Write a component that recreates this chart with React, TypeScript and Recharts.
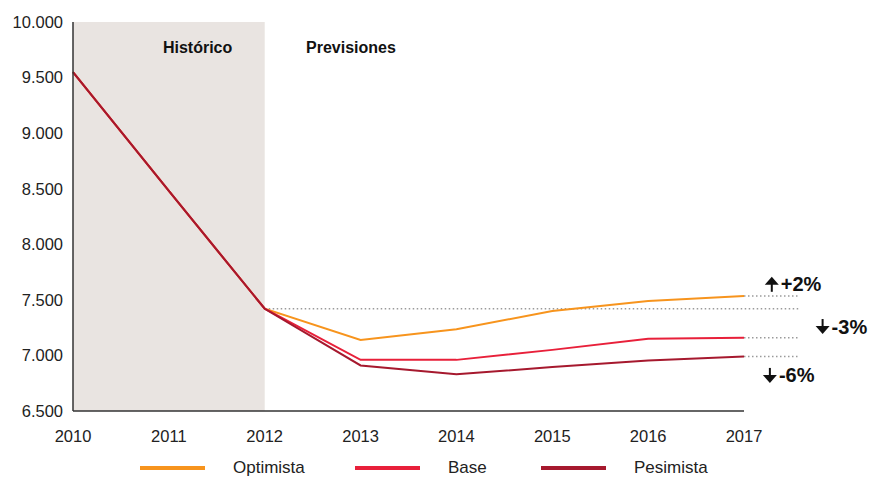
import React from "react";
import {
  LineChart,
  Line,
  XAxis,
  YAxis,
  ReferenceArea,
  ReferenceLine,
  ReferenceDot,
  Legend,
} from "recharts";

const years = [2010, 2011, 2012, 2013, 2014, 2015, 2016, 2017];
const optimista = [9550, 8480, 7420, 7140, 7235, 7400, 7490, 7535];
const base = [9550, 8480, 7420, 6960, 6960, 7050, 7150, 7160];
const pesimista = [9550, 8480, 7420, 6910, 6830, 6895, 6955, 6990];
const yTicks = [6500, 7000, 7500, 8000, 8500, 9000, 9500, 10000];

const lastYear = 2012;
const lastValue = 7420;

const seriesInfo = [
  { key: "optimista", name: "Optimista", color: "#f7941d" },
  { key: "base", name: "Base", color: "#e8203a" },
  { key: "pesimista", name: "Pesimista", color: "#a6192e" },
];

const data = years.map((year, i) => ({
  year,
  optimista: optimista[i],
  base: base[i],
  pesimista: pesimista[i],
}));

const FONT = '"Liberation Sans", Arial, Helvetica, sans-serif';

const fmt = (v: number) => String(v).replace(/\B(?=(\d{3})+(?!\d))/g, ".");

function Arrow({ x, y, up }: { x: number; y: number; up: boolean }) {
  // x,y is the arrow's centre
  const h = 15;
  const top = y - h / 2;
  const bottom = y + h / 2;
  if (up) {
    return (
      <g>
        <path d={`M${x - 7},${top + 8} L${x},${top} L${x + 7},${top + 8} Z`} fill="#111" />
        <rect x={x - 1} y={top + 7} width={2} height={h - 7} fill="#111" />
      </g>
    );
  }
  return (
    <g>
      <path d={`M${x - 7},${bottom - 8} L${x},${bottom} L${x + 7},${bottom - 8} Z`} fill="#111" />
      <rect x={x - 1} y={top} width={2} height={h - 7} fill="#111" />
    </g>
  );
}

const annotation = (label: string, up: boolean) => (p: any) => (
  <g>
    <Arrow x={p.cx} y={p.cy} up={up} />
    <text
      x={p.cx + 9}
      y={p.cy + 7}
      fontFamily={FONT}
      fontWeight="bold"
      fontSize={20}
      fill="#111"
    >
      {label}
    </text>
  </g>
);

const headerText = (label: string) => (p: any) => (
  <text
    x={p.cx}
    y={p.cy + 5}
    textAnchor="middle"
    fontFamily={FONT}
    fontWeight="bold"
    fontSize={16}
    fill="#111"
  >
    {label}
  </text>
);

const legendLeft = [140, 355, 541];

function LegendContent() {
  return (
    <div style={{ position: "relative", height: 17, marginTop: 2, fontFamily: FONT }}>
      {seriesInfo.map((s, i) => (
        <div
          key={s.key}
          style={{
            position: "absolute",
            left: legendLeft[i],
            top: 0,
            display: "flex",
            alignItems: "center",
            height: 17,
          }}
        >
          <div style={{ width: 65, height: 4, background: s.color }} />
          <span style={{ marginLeft: 28, fontSize: 17, lineHeight: "17px", color: "#222" }}>
            {s.name}
          </span>
        </div>
      ))}
    </div>
  );
}

export default function App() {
  return (
    <div style={{ position: "absolute", left: 0, top: 0, background: "#fff" }}>
      <LineChart
        width={876}
        height={477}
        data={data}
        margin={{ top: 22, right: 132, bottom: 0, left: 0 }}
      >
        <ReferenceArea
          x1={2010}
          x2={2012}
          y1={6500}
          y2={10000}
          fill="#e9e4e1"
          fillOpacity={1}
          stroke="none"
        />
        <XAxis
          dataKey="year"
          type="number"
          domain={[2010, 2017]}
          ticks={years}
          tickLine={false}
          tickSize={0}
          tickMargin={19}
          height={46}
          axisLine={{ stroke: "#333", strokeWidth: 1.5 }}
          tick={{ fontSize: 16.5, fill: "#222", fontFamily: FONT }}
        />
        <YAxis
          type="number"
          domain={[6500, 10000]}
          ticks={yTicks}
          tickFormatter={fmt}
          tickLine={false}
          tickSize={0}
          tickMargin={10}
          width={73}
          axisLine={{ stroke: "#333", strokeWidth: 1.5 }}
          tick={{ fontSize: 16.5, fill: "#222", fontFamily: FONT }}
        />
        <ReferenceLine
          segment={[
            { x: lastYear, y: lastValue },
            { x: 2017.57, y: lastValue },
          ]}
          stroke="#9a9a9a"
          strokeWidth={1.5}
          strokeDasharray="1.5 2.5"
          ifOverflow="visible"
        />
        {[optimista, base, pesimista].map((arr, i) => (
          <ReferenceLine
            key={i}
            segment={[
              { x: 2017, y: arr[arr.length - 1] },
              { x: 2017.57, y: arr[arr.length - 1] },
            ]}
            stroke="#9a9a9a"
            strokeWidth={1.5}
            strokeDasharray="1.5 2.5"
            ifOverflow="visible"
          />
        ))}
        {seriesInfo.map((s) => (
          <Line
            key={s.key}
            type="linear"
            dataKey={s.key}
            name={s.name}
            stroke={s.color}
            strokeWidth={2}
            dot={false}
            activeDot={false}
            isAnimationActive={false}
          />
        ))}
        <ReferenceDot x={2011.3} y={9770} r={0} ifOverflow="visible" shape={headerText("Histórico")} />
        <ReferenceDot x={2012.9} y={9770} r={0} ifOverflow="visible" shape={headerText("Previsiones")} />
        <ReferenceDot x={2017.29} y={7640} r={0} ifOverflow="visible" shape={annotation("+2%", true)} />
        <ReferenceDot x={2017.82} y={7260} r={0} ifOverflow="visible" shape={annotation("-3%", false)} />
        <ReferenceDot x={2017.27} y={6820} r={0} ifOverflow="visible" shape={annotation("-6%", false)} />
        <Legend verticalAlign="bottom" height={20} content={<LegendContent />} />
      </LineChart>
    </div>
  );
}
